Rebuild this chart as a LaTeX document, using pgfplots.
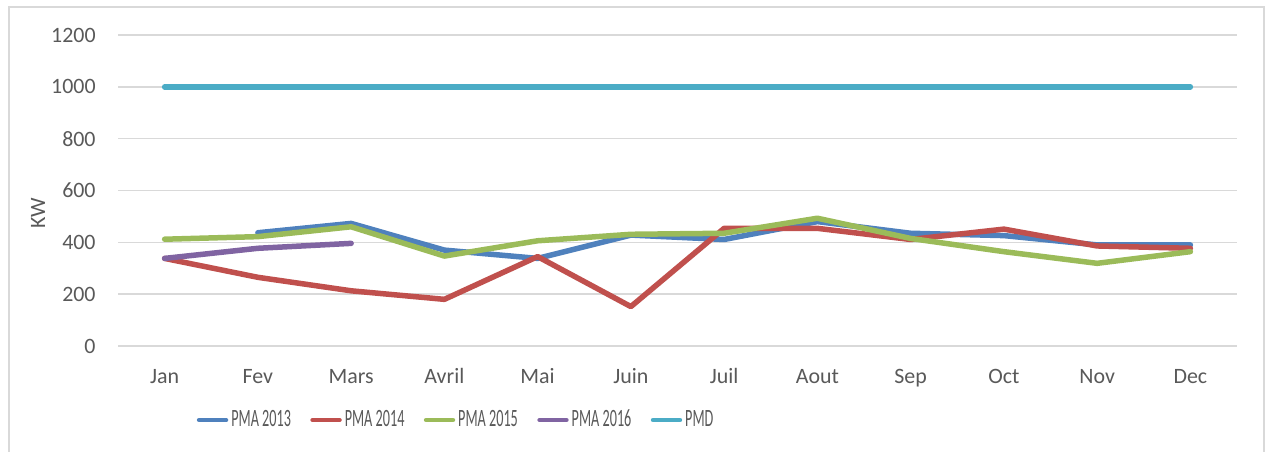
\documentclass[border=0pt]{standalone}
\usepackage{fontspec}
\setmainfont{Carlito}
\usepackage{graphicx}
\usepackage{pgfplots}
\pgfplotsset{compat=1.18}

\definecolor{c2013}{RGB}{79,129,189}
\definecolor{c2014}{RGB}{192,80,77}
\definecolor{c2015}{RGB}{155,187,89}
\definecolor{c2016}{RGB}{128,100,162}
\definecolor{cpmd}{RGB}{75,172,198}
\definecolor{gridgray}{RGB}{217,217,217}
\definecolor{labelgray}{RGB}{89,89,89}
% the legend text is narrow in the original
\newcommand\leg[1]{\scalebox{0.57}[1]{\fontsize{12.5}{14}\selectfont #1}}

\begin{document}
\begin{tikzpicture}
\useasboundingbox (-59bp,-53bp) rectangle (573.5bp,173bp);
\draw[gridgray, line width=0.75bp] (-54.5bp,-53bp) -- (-54.5bp,169.5bp) -- (573bp,169.5bp) -- (573bp,-53bp);
\begin{axis}[
  at={(0,0)}, anchor=south west,
  scale only axis, width=559.5bp, height=155.5bp,
  xmin=-0.5, xmax=11.5, ymin=0, ymax=1200,
  xtick={0,...,11},
  xticklabels={Jan,Fev,Mars,Avril,Mai,Juin,Juil,Aout,Sep,Oct,Nov,Dec},
  ytick={0,200,...,1200},
  ymajorgrids, grid style={draw=gridgray, line width=0.7bp},
  axis line style={draw=none}, major tick length=0pt,
  tick label style={font=\fontsize{11}{13}\selectfont, text=labelgray},
  yticklabel style={anchor=east, inner sep=0pt, xshift=-11bp},
  xticklabel style={anchor=base, inner sep=0pt, yshift=-18.5bp},
  /pgf/number format/assume math mode=true,
  /pgf/number format/1000 sep={},
  every axis plot/.append style={line width=2.75bp, line cap=round, line join=round, mark=none},
  legend columns=5,
  legend style={at={(axis description cs:0.0705,-0.238)}, anchor=west,
    draw=none, fill=none, inner sep=0pt, outer sep=0pt,
    nodes={inner xsep=1.5bp, inner ysep=1bp, text=labelgray},
    /tikz/every even column/.append style={column sep=8.2bp}},
  legend image code/.code={\draw[#1, line width=2.2bp, line cap=round] (1.1bp,0) -- (14.6bp,0);},
]
\addplot[c2013] coordinates {(1,437) (2,473) (3,370) (4,338) (5,428) (6,411) (7,480) (8,435) (9,426) (10,390) (11,390)};
\addlegendentry{\leg{PMA 2013}}
\addplot[c2014] coordinates {(0,338) (1,265) (2,213) (3,180) (4,345) (5,152) (6,454) (7,454) (8,411) (9,451) (10,386) (11,377)};
\addlegendentry{\leg{PMA 2014}}
\addplot[c2015] coordinates {(0,412) (1,422) (2,460) (3,347) (4,406) (5,431) (6,435) (7,493) (8,415) (9,364) (10,319) (11,364)};
\addlegendentry{\leg{PMA 2015}}
\addplot[c2016] coordinates {(0,338) (1,377) (2,396)};
\addlegendentry{\leg{PMA 2016}}
\addplot[cpmd] coordinates {(0,1000) (1,1000) (2,1000) (3,1000) (4,1000) (5,1000) (6,1000) (7,1000) (8,1000) (9,1000) (10,1000) (11,1000)};
\addlegendentry{\leg{PMD}}
\end{axis}
\node[rotate=90, text=labelgray, font=\fontsize{11}{13}\selectfont] at (-40bp,66.5bp) {KW};
\end{tikzpicture}
\end{document}
